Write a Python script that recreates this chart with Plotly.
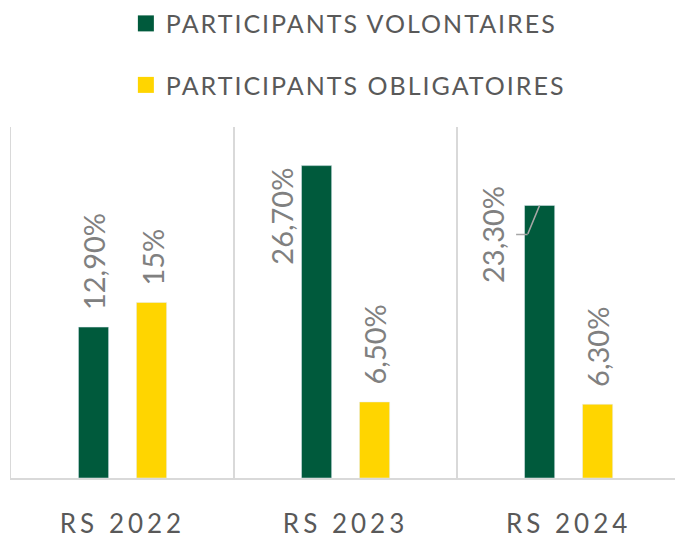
import plotly.graph_objects as go

categories = ["RS 2022", "RS 2023", "RS 2024"]
volontaires = [12.9, 26.7, 23.3]
obligatoires = [15.0, 6.5, 6.3]
labels_vol = ["12,90%", "26,70%", "23,30%"]
labels_obl = ["15%", "6,50%", "6,30%"]
series_names = ["PARTICIPANTS VOLONTAIRES", "PARTICIPANTS OBLIGATOIRES"]

GREEN = "#005A3C"
YELLOW = "#FFD500"
LABEL_GRAY = "#808080"
TEXT_GRAY = "#595959"
GRID = "#D9D9D9"
LEADER = "#A6A6A6"
FONT = "Lato"

fig = go.Figure()
fig.add_bar(x=categories, y=volontaires, marker_color=GREEN, showlegend=False,
            name=series_names[0])
fig.add_bar(x=categories, y=obligatoires, marker_color=YELLOW, showlegend=False,
            name=series_names[1])
# legend entries (larger square swatches)
for nm, col, grp in [(series_names[0], GREEN, "a"), (series_names[1], YELLOW, "b")]:
    fig.add_scatter(x=[None], y=[None], mode="markers", name=nm, legendgroup=grp,
                    marker=dict(symbol="square", size=17, color=col))

label_font = dict(family=FONT, size=29, color=LABEL_GRAY)
annotations = []
offset = 29
for i, cat in enumerate(categories):
    for vals, labs, sh in [(volontaires, labels_vol, -offset), (obligatoires, labels_obl, offset)]:
        lab = labs[i]
        if lab == "23,30%":
            # label beside the bar with a bent leader line
            annotations.append(dict(
                x=cat, y=vals[i], xref="x", yref="y", xshift=sh, text="",
                showarrow=True, arrowhead=0, arrowwidth=1.5, arrowcolor=LEADER,
                ax=-12, ay=29, standoff=0, borderpad=0, font=dict(size=1)))
            annotations.append(dict(
                x=cat, y=vals[i], xref="x", yref="y", xshift=sh - 12, yshift=-29,
                text="", showarrow=True, arrowhead=0, arrowwidth=1.5,
                arrowcolor=LEADER, ax=-12, ay=0, standoff=0, borderpad=0,
                font=dict(size=1)))
            annotations.append(dict(
                x=cat, y=vals[i], xref="x", yref="y", xshift=sh - 47, yshift=-29,
                text=lab, textangle=-90, showarrow=False, xanchor="center",
                yanchor="middle", font=label_font))
        elif lab == "26,70%":
            # placed beside the bar, top aligned with it
            annotations.append(dict(
                x=cat, y=vals[i], xref="x", yref="y", xshift=sh - 35,
                text=lab, textangle=-90, showarrow=False, yanchor="top",
                xanchor="center", font=label_font))
        else:
            annotations.append(dict(
                x=cat, y=vals[i], xref="x", yref="y", xshift=sh, yshift=15,
                text=lab, textangle=-90, showarrow=False, yanchor="bottom",
                xanchor="center", font=label_font))

fig.update_layout(
    width=675, height=539,
    margin=dict(l=11, r=0, t=125, b=59),
    paper_bgcolor="white", plot_bgcolor="white",
    barmode="group", bargap=0.48, bargroupgap=0.48,
    annotations=annotations,
    legend=dict(orientation="v", x=0.173, xanchor="left", y=1.36, yanchor="top",
                font=dict(family=FONT, size=25, color=TEXT_GRAY),
                tracegroupgap=26, itemclick=False, bgcolor="rgba(0,0,0,0)"),
    xaxis=dict(type="category", range=[-0.5, 2.477], tickson="boundaries",
               showgrid=True, gridcolor=GRID, gridwidth=1.5,
               showline=True, linecolor=GRID, linewidth=1.5,
               ticks="", ticklabelstandoff=22,
               tickfont=dict(family=FONT, size=26, color=TEXT_GRAY)),
    yaxis=dict(range=[0, 30], showgrid=False, zeroline=False, showticklabels=False,
               showline=True, linecolor=GRID, linewidth=1.5),
)

post = """
var st = document.createElement('style');
st.textContent = 'body{margin:0;} .legendtext{letter-spacing:2px;} .xtick text{letter-spacing:4px;} ' +
  '.legend, .legend .scrollbox, .legend g{clip-path:none !important;}';
document.head.appendChild(st);
"""
fig.write_html("out.html", post_script=post,
               config={"displayModeBar": False, "staticPlot": True})
